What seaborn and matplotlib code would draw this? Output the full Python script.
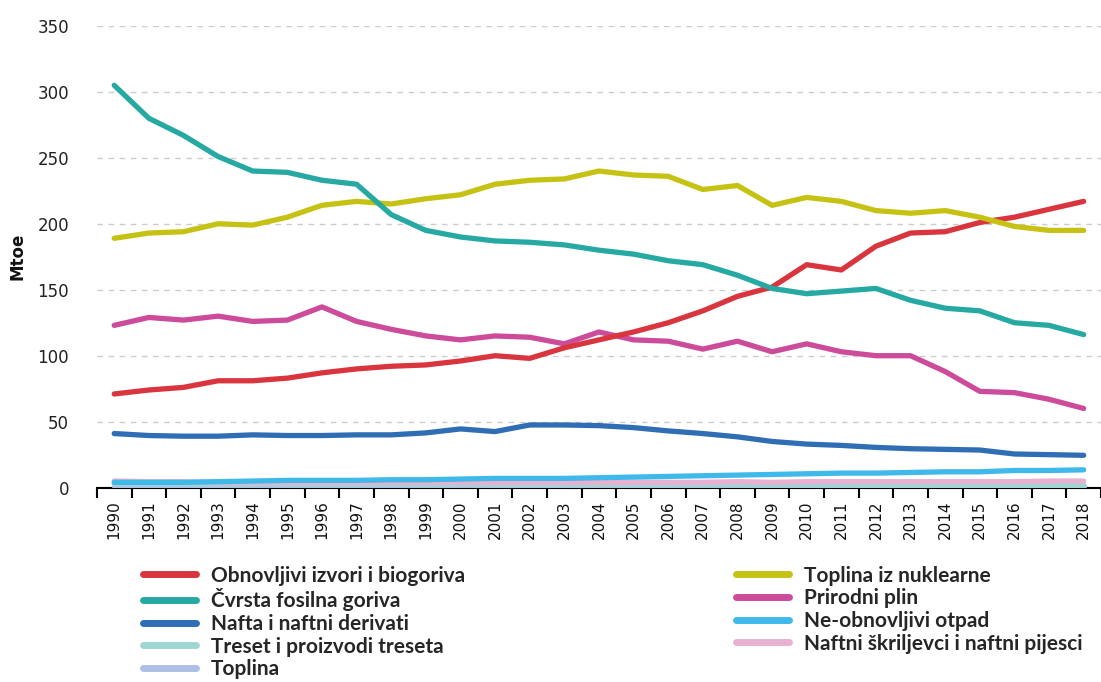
import numpy as np
import pandas as pd
import matplotlib
matplotlib.use("Agg")
import matplotlib.pyplot as plt
from matplotlib.lines import Line2D
import seaborn as sns

years = list(range(1990, 2019))

obnovljivi = [71, 74, 76, 81, 81, 83, 87, 90, 92, 93, 96, 100, 98, 106, 112,
              118, 125, 134, 145, 152, 169, 165, 183, 193, 194, 201, 205, 211, 217]
cvrsta = [305, 280, 267, 251, 240, 239, 233, 230, 207, 195, 190, 187, 186, 184, 180,
          177, 172, 169, 161, 151, 147, 149, 151, 142, 136, 134, 125, 123, 116]
nafta = [41, 39.5, 39, 39, 40, 39.5, 39.5, 40, 40, 41.5, 44.5, 42.5, 47.5, 47.5, 47,
         45.5, 43, 41, 38.5, 35, 33, 32, 30.5, 29.5, 29, 28.5, 25.5, 25, 24.5]
treset = [3, 3, 3, 2.8, 2.8, 2.7, 2.7, 2.6, 2.5, 2.5, 2.5, 2.4, 2.4, 2.3, 2.3,
          2.2, 2.2, 2.1, 2.1, 2, 2, 2, 1.9, 1.9, 1.8, 1.8, 1.8, 1.7, 1.7]
toplina = [1.5, 1.5, 1.5, 1.5, 1.5, 1.5, 1.5, 1.5, 1.5, 1.5, 1.5, 1.5, 1.5, 1.5, 1.5,
           1.5, 1.5, 1.5, 1.5, 1.5, 1.5, 1.5, 1.5, 1.5, 1.5, 1.5, 1.5, 1.5, 1.5]
nuklearna = [189, 193, 194, 200, 199, 205, 214, 217, 215, 219, 222, 230, 233, 234, 240,
             237, 236, 226, 229, 214, 220, 217, 210, 208, 210, 205, 198, 195, 195]
plin = [123, 129, 127, 130, 126, 127, 137, 126, 120, 115, 112, 115, 114, 109, 118,
        112, 111, 105, 111, 103, 109, 103, 100, 100, 88, 73, 72, 67, 60]
otpad = [4, 4, 4, 4.5, 5, 5.5, 5.5, 5.5, 6, 6, 6.5, 7, 7, 7, 7.5,
         8, 8.5, 9, 9.5, 10, 10.5, 11, 11, 11.5, 12, 12, 13, 13, 13.5]
skriljevci = [5, 4.5, 4.5, 4, 4, 4, 4, 4, 4, 4, 4, 4, 4, 4, 4,
              4, 4, 4, 4.5, 4, 4.5, 4.5, 4.5, 4.5, 4.5, 4.5, 4.5, 5, 5]

names = ["Obnovljivi izvori i biogoriva", "Čvrsta fosilna goriva", "Nafta i naftni derivati",
         "Treset i proizvodi treseta", "Toplina", "Toplina iz nuklearne", "Prirodni plin",
         "Ne-obnovljivi otpad", "Naftni škriljevci i naftni pijesci"]
series = [obnovljivi, cvrsta, nafta, treset, toplina, nuklearna, plin, otpad, skriljevci]
colors = ["#d9353f", "#27a9a3", "#2f6db5", "#9fd6d4", "#aebfe6",
          "#c6c214", "#cc4b9a", "#3fb8ea", "#e8b1d2"]
palette = dict(zip(names, colors))

df = pd.DataFrame({"Godina": np.tile(years, len(names)),
                   "Mtoe": np.concatenate(series),
                   "Serija": np.repeat(names, len(years))})

sns.set_style("white")
plt.rcParams["font.family"] = ["DejaVu Sans"]

fig = plt.figure(figsize=(11.01, 6.82), dpi=100)
ax = fig.add_axes([0.088, 0.285, 0.912, 0.677])

# light series first so the big ones sit on top
draw_order = ["Toplina", "Treset i proizvodi treseta", "Naftni škriljevci i naftni pijesci",
              "Ne-obnovljivi otpad", "Nafta i naftni derivati", "Prirodni plin",
              "Obnovljivi izvori i biogoriva", "Toplina iz nuklearne", "Čvrsta fosilna goriva"]
for n in draw_order:
    sns.lineplot(data=df[df["Serija"] == n], x="Godina", y="Mtoe", color=palette[n],
                 linewidth=3.8, ax=ax, legend=False, solid_capstyle="round", zorder=3)

ax.set_xlim(1989.5, 2018.5)
ax.set_ylim(0, 350)
ax.set_yticks(range(0, 351, 50))
ax.set_xticks(years)
ax.set_xticklabels([str(y) for y in years], rotation=90, fontsize=11)
ax.set_xticks(np.arange(1989.5, 2019, 1), minor=True)
ax.tick_params(axis="x", which="major", length=0, pad=9, bottom=True, colors="#111111")
ax.tick_params(axis="x", which="minor", length=7, width=1.5, color="black",
               direction="out", bottom=True)
ax.tick_params(axis="y", length=0, labelsize=12, pad=20, colors="#222222")
for y in range(50, 351, 50):
    ax.axhline(y, color="#cccccc", linestyle=(0, (4, 4)), linewidth=1, zorder=1)
for s in ["top", "right", "left"]:
    ax.spines[s].set_visible(False)
ax.spines["bottom"].set_color("black")
ax.spines["bottom"].set_linewidth(1.5)
ax.set_xlabel("")
ax.set_ylabel("Mtoe", fontsize=12, fontweight="bold", labelpad=8, color="#111111")

handles = [Line2D([0], [0], color=palette[n], linewidth=5, solid_capstyle="round") for n in names]
fig.legend(handles, names, loc="upper left", bbox_to_anchor=(0.122, 0.183), ncol=2,
           frameon=False, handlelength=2.55, handletextpad=0.72,
           columnspacing=13.0, labelspacing=0.13, borderaxespad=0,
           prop={"family": "Lato", "weight": "bold", "size": 15})

fig.savefig("out.png", dpi=100)
